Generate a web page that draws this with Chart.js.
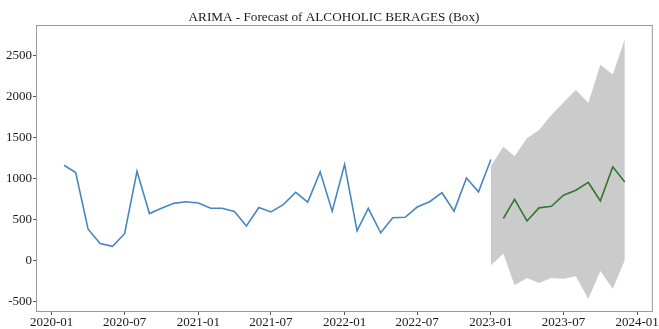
<!DOCTYPE html>
<html>
<head>
<meta charset="utf-8">
<script src="https://cdn.jsdelivr.net/npm/chart.js@4/dist/chart.umd.min.js"></script>
<style>
  html, body { margin: 0; padding: 0; background: #fff; }
  canvas { display: block; }
</style>
</head>
<body>
<canvas id="forecastChart" width="659" height="329"></canvas>
<script>
// ── ARIMA forecast: monthly history + forecast line + confidence band ──

const histMonths = [
  '2020-02','2020-03','2020-04','2020-05','2020-06','2020-07','2020-08','2020-09','2020-10','2020-11','2020-12',
  '2021-01','2021-02','2021-03','2021-04','2021-05','2021-06','2021-07','2021-08','2021-09','2021-10','2021-11','2021-12',
  '2022-01','2022-02','2022-03','2022-04','2022-05','2022-06','2022-07','2022-08','2022-09','2022-10','2022-11','2022-12',
  '2023-01'
];
const histValues = [
  1160, 1070, 380, 205, 170, 325, 1085, 570, 635, 695, 715,
  700, 635, 635, 595, 420, 645, 590, 680, 830, 710, 1080, 600,
  1170, 360, 635, 335, 520, 525, 650, 715, 825, 600, 1005, 835,
  1230
];

const fcMonths = [
  '2023-01','2023-02','2023-03','2023-04','2023-05','2023-06',
  '2023-07','2023-08','2023-09','2023-10','2023-11','2023-12'
];
const fcValues = [null, 510, 745, 480, 640, 660, 795, 855, 950, 725, 1140, 955];
const fcUpper  = [1150, 1385, 1270, 1490, 1590, 1775, 1925, 2080, 1920, 2385, 2265, 2700];
const fcLower  = [-60, 80, -305, -215, -275, -215, -225, -195, -470, -130, -345, 0];

const xTickLabels = ['2020-01','2020-07','2021-01','2021-07','2022-01','2022-07','2023-01','2023-07','2024-01'];
const yTickValues = [-500, 0, 500, 1000, 1500, 2000, 2500];

const TITLE = 'ARIMA - Forecast of ALCOHOLIC BERAGES (Box)';
const FONT  = '"Liberation Serif", "Times New Roman", serif';

// month string -> days since epoch
function toDays(s) {
  const [y, m] = s.split('-').map(Number);
  return Date.UTC(y, m - 1, 1) / 86400000;
}

const pts = (months, vals) => months.map((m, i) => ({ x: toDays(m), y: vals[i] }));

// Axes frame + title drawn by hand
const framePlugin = {
  id: 'frame',
  afterDraw(chart) {
    const { ctx, chartArea: { left, right, top, bottom } } = chart;
    ctx.save();
    ctx.strokeStyle = '#9a9a9a';
    ctx.lineWidth = 1;
    ctx.strokeRect(left + 0.5, top + 0.5, right - left - 1, bottom - top - 1);
    ctx.fillStyle = '#1a1a1a';
    ctx.font = '13.2px ' + FONT;
    ctx.textAlign = 'center';
    ctx.textBaseline = 'alphabetic';
    ctx.fillText(TITLE, 334, 20.5);
    ctx.restore();
  }
};

const xMin = toDays(histMonths[0]) - 70;
const xMax = toDays(fcMonths[fcMonths.length - 1]) + 70;

new Chart(document.getElementById('forecastChart'), {
  type: 'line',
  data: {
    datasets: [
      {
        label: 'Actual',
        data: pts(histMonths, histValues),
        borderColor: '#4787bd',
        borderWidth: 1.6,
        pointRadius: 0,
        fill: false,
        order: 0
      },
      {
        label: 'Forecast',
        data: pts(fcMonths, fcValues),
        borderColor: '#2f7a2f',
        borderWidth: 1.6,
        pointRadius: 0,
        fill: false,
        order: 0
      },
      {
        label: 'Upper',
        data: pts(fcMonths, fcUpper),
        borderWidth: 0,
        borderColor: 'rgba(0,0,0,0)',
        backgroundColor: '#cbcbcb',
        pointRadius: 0,
        fill: '+1',
        order: 1
      },
      {
        label: 'Lower',
        data: pts(fcMonths, fcLower),
        borderWidth: 0,
        borderColor: 'rgba(0,0,0,0)',
        pointRadius: 0,
        fill: false,
        order: 1
      }
    ]
  },
  options: {
    responsive: false,
    animation: false,
    layout: { padding: { top: 25, right: 5, left: 0, bottom: 0 } },
    plugins: {
      legend: { display: false },
      tooltip: { enabled: false },
      title: { display: false }
    },
    scales: {
      x: {
        type: 'linear',
        min: xMin,
        max: xMax,
        afterBuildTicks: s => { s.ticks = xTickLabels.map(t => ({ value: toDays(t) })); },
        afterFit: s => { s.height = 17; },
        ticks: {
          autoSkip: false,
          maxRotation: 0,
          padding: 0,
          color: '#1a1a1a',
          font: { family: FONT, size: 13 },
          callback: (v, i) => xTickLabels[i]
        },
        grid: { drawOnChartArea: false, drawTicks: true, tickLength: 3, color: '#555' },
        border: { display: false }
      },
      y: {
        min: -630,
        max: 2870,
        afterBuildTicks: s => { s.ticks = yTickValues.map(v => ({ value: v })); },
        afterFit: s => { s.width = 36; },
        ticks: {
          padding: 1,
          color: '#1a1a1a',
          font: { family: FONT, size: 13 },
          callback: v => String(v)
        },
        grid: { drawOnChartArea: false, drawTicks: true, tickLength: 3, color: '#555' },
        border: { display: false }
      }
    }
  },
  plugins: [framePlugin]
});
</script>
</body>
</html>
